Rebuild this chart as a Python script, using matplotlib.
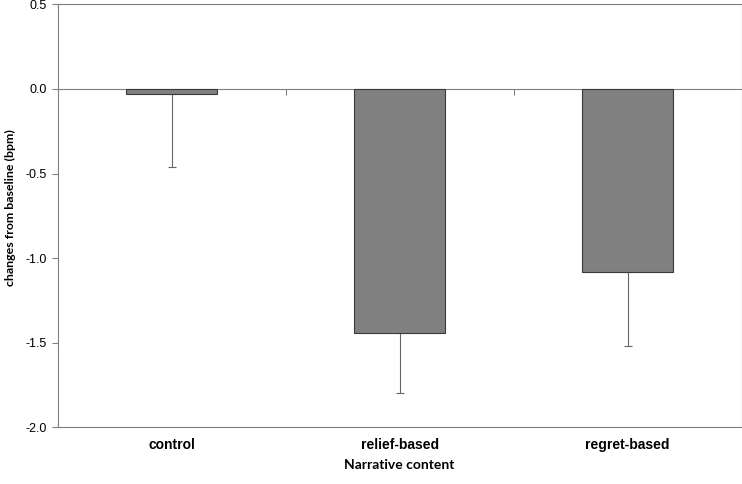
import matplotlib
matplotlib.use("Agg")
import matplotlib.pyplot as plt
import numpy as np

categories = ["control", "relief-based", "regret-based"]
means = [-0.03, -1.44, -1.08]
err_lower = [0.43, 0.36, 0.44]
yticks = [0.5, 0.0, -0.5, -1.0, -1.5, -2.0]
ytick_labels = ["0.5", "0.0", "-0.5", "-1.0", "-1.5", "-2.0"]

axis_gray = "#7f7f7f"

fig = plt.figure(figsize=(7.42, 4.84), dpi=100)
ax = fig.add_axes([0.0775, 0.1171, 0.9221, 0.874])

x = np.arange(len(categories))
ax.bar(x, means, width=0.4, color="#808080", edgecolor="#3a3a3a", linewidth=0.8, zorder=3)
yerr = np.array([err_lower, np.zeros(len(err_lower))])
ax.errorbar(x, means, yerr=yerr, fmt="none", ecolor="#666666", elinewidth=0.8,
            capsize=3, capthick=0.8, zorder=2)

ax.set_xlim(-0.5, len(categories) - 0.5)
ax.set_ylim(-2.0, 0.5)
ax.set_yticks(yticks)
ax.set_yticklabels(ytick_labels, fontfamily="Liberation Sans", fontsize=9)
ax.set_xticks(x)
ax.set_xticklabels(categories, fontfamily="Liberation Sans", fontsize=10, fontweight="bold")
ax.tick_params(axis="x", length=0, pad=8)
ax.tick_params(axis="y", direction="out", length=4, width=0.8, color=axis_gray, pad=4)

for s in ax.spines.values():
    s.set_color(axis_gray)
    s.set_linewidth(0.8)

ax.axhline(0, color=axis_gray, linewidth=0.8, zorder=1)
sec = ax.secondary_xaxis(0.8)
sec.set_xticks(np.arange(len(categories) - 1) + 0.5)
sec.set_xticklabels([])
sec.tick_params(direction="in", length=4, width=0.8, color=axis_gray)
for s in sec.spines.values():
    s.set_visible(False)

ax.set_xlabel("Narrative content", fontfamily="Lato", fontsize=10, fontweight="bold", labelpad=5)
fig.text(10 / 742, 1 - 208 / 484, "changes from baseline (bpm)", rotation=90,
         ha="center", va="center", fontfamily="Lato", fontsize=8.9, fontweight="bold")

fig.savefig("out.png", dpi=100)
